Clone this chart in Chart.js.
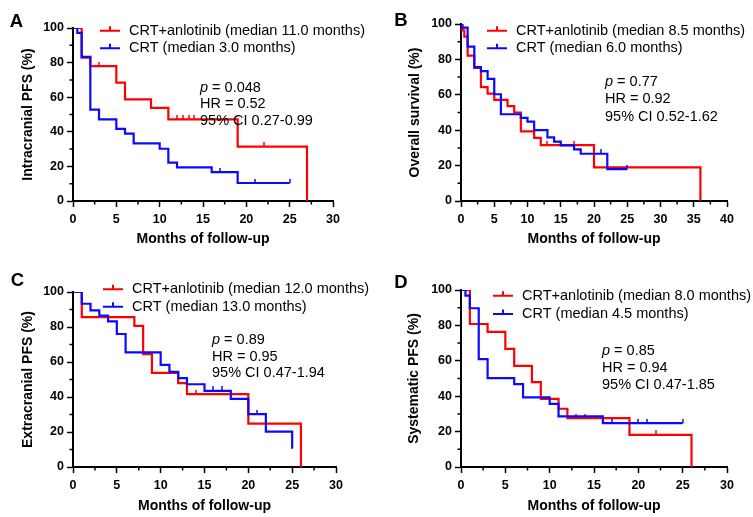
<!DOCTYPE html>
<html>
<head>
<meta charset="utf-8">
<script src="https://cdn.jsdelivr.net/npm/chart.js@4.4.0/dist/chart.umd.min.js"></script>
<style>
  body { margin: 0; background: #fff; overflow: hidden; }
  canvas { position: absolute; }
</style>
</head>
<body>
<canvas id="panelA" width="376" height="258" style="left:0;top:0"></canvas>
<canvas id="panelB" width="365" height="258" style="left:388px;top:0"></canvas>
<canvas id="panelC" width="376" height="259" style="left:0;top:258px"></canvas>
<canvas id="panelD" width="365" height="259" style="left:388px;top:258px"></canvas>
<script>
"use strict";
// ========== DATA ========== //
// A: intracranial PFS (months where the curve steps, % after the step)
const aRedMonths = [0, 1, 2, 5, 6, 9, 11, 19, 27];
const aRedPct = [100, 82.8, 78, 68.4, 58.8, 53.8, 47.2, 31.4, 0];
const aRedCensor = [0.5, 3, 12, 12.7, 13.4, 14, 22];
const aBlueMonths = [0, 0.5, 1, 2, 3, 5, 6, 7, 10, 11, 12, 16, 19, 25];
const aBluePct = [100, 97.2, 83.3, 52.8, 47.2, 41.7, 38.9, 33.3, 30.2, 22.2, 19.4, 16.7, 10.4, 10.4];
const aBlueCensor = [17, 21, 25];
const aLegend = ["CRT+anlotinib (median 11.0 months)", "CRT (median 3.0 months)"];
const aStats = ["0.048", "0.52", "0.27-0.99"];

// B: overall survival
const bRedMonths = [0, 0.2, 0.5, 1, 2, 3, 4, 5, 7, 8, 9, 11, 12, 20, 36];
const bRedPct = [100, 96.4, 92.9, 82.1, 75.2, 64.3, 60.7, 57.1, 53.6, 50, 39.3, 35.7, 31.6, 19, 0];
const bRedCensor = [13, 17];
const bBlueMonths = [0, 0.2, 1, 2, 3, 4, 5, 6, 9, 10, 11, 13, 14, 15, 17, 18, 22, 25];
const bBluePct = [100, 97.9, 87.2, 75.6, 73.4, 69, 60.3, 49, 47, 44.8, 40, 36, 33.5, 31.4, 29.2, 26.7, 18, 18];
const bBlueCensor = [21, 25];
const bLegend = ["CRT+anlotinib (median 8.5 months)", "CRT (median 6.0 months)"];
const bStats = ["0.77", "0.92", "0.52-1.62"];

// C: extracranial PFS
const cRedMonths = [0, 1, 7, 8, 9, 12, 13, 20, 26];
const cRedPct = [100, 85.7, 80.6, 64.5, 53.8, 47.9, 41.6, 24.8, 0];
const cRedCensor = [14];
const cBlueMonths = [0, 1, 2, 3, 4, 5, 6, 10, 11, 12, 13, 15, 18, 20, 22, 25];
const cBluePct = [100, 93.3, 89.5, 86.5, 83.2, 76, 65.5, 58.4, 54.4, 50.8, 47.3, 43.5, 38.9, 30.2, 20.2, 10.5];
const cBlueCensor = [0.5, 16, 17, 21];
const cLegend = ["CRT+anlotinib (median 12.0 months)", "CRT (median 13.0 months)"];
const cStats = ["0.89", "0.95", "0.47-1.94"];

// D: systematic PFS
const dRedMonths = [0, 1, 3, 5, 6, 8, 9, 11, 12, 19, 26];
const dRedPct = [100, 80.8, 76.3, 66.7, 57.1, 47.9, 38.5, 32.9, 27.6, 18.2, 0];
const dRedCensor = [13, 14, 22];
const dBlueMonths = [0, 0.5, 1, 2, 3, 6, 7, 10, 11, 16, 25];
const dBluePct = [100, 96.8, 89.7, 60.9, 50.2, 46.8, 39.3, 35.7, 28.6, 24.8, 24.8];
const dBlueCensor = [17, 20, 21, 25];
const dLegend = ["CRT+anlotinib (median 8.0 months)", "CRT (median 4.5 months)"];
const dStats = ["0.85", "0.94", "0.47-1.85"];

const RED = "#ff0000";
const BLUE = "#0a0aff";
const FONT = "'Liberation Sans', Arial, sans-serif";

Chart.defaults.font.family = FONT;
Chart.defaults.color = "#000";

// small upward tick used for censored points
function censorMark(color) {
  let c = document.createElement("canvas");
  c.width = 2;
  c.height = 9;
  let ctx = c.getContext("2d");
  ctx.fillStyle = color;
  ctx.fillRect(0.25, 0, 1.5, 4.5);
  return c;
}

// value of the step curve at month t
function pctAt(months, pct, t) {
  let v = pct[0];
  months.forEach((m, i) => { if (m <= t) v = pct[i]; });
  return v;
}

function stepSet(months, pct, color) {
  return {
    type: "line",
    data: months.map((m, i) => ({ x: m, y: pct[i] })),
    borderColor: color,
    borderWidth: 2.2,
    pointRadius: 0,
    stepped: true,
    fill: false
  };
}

function censorSet(months, pct, censor, color) {
  return {
    type: "scatter",
    data: censor.map(t => ({ x: t, y: pctAt(months, pct, t) })),
    pointStyle: censorMark(color),
    pointRadius: 4,
    showLine: false
  };
}

// ========== PANELS ========== //
function makePanel(id, p) {
  let el = document.querySelector("#" + id);
  let box = { left: p.left, top: p.top, width: el.width, height: el.height };

  const decor = {
    id: "decor" + id,
    afterDraw(chart) {
      let ctx = chart.ctx;
      let ox = box.left, oy = box.top;
      let xs = chart.scales.x, ys = chart.scales.y;
      ctx.save();
      // minor ticks
      ctx.strokeStyle = "#000";
      ctx.lineWidth = 1.5;
      ctx.beginPath();
      for (let v = 10; v < 100; v += 20) {
        let y = ys.getPixelForValue(v);
        ctx.moveTo(xs.left - 3.5, y);
        ctx.lineTo(xs.left, y);
      }
      for (let v = 2.5; v < p.xMax; v += 5) {
        let x = xs.getPixelForValue(v);
        ctx.moveTo(x, ys.bottom);
        ctx.lineTo(x, ys.bottom + 3.5);
      }
      ctx.stroke();

      // panel letter
      ctx.fillStyle = "#000";
      ctx.font = "bold 18.5px " + FONT;
      ctx.textAlign = "center";
      ctx.textBaseline = "middle";
      ctx.fillText(p.letter, p.letterX - ox, p.letterY - oy);

      // legend
      ctx.textAlign = "left";
      ctx.font = "14.5px " + FONT;
      [RED, BLUE].forEach((col, i) => {
        let y = p.legY[i] - oy;
        let x1 = p.legX - ox;
        ctx.strokeStyle = col;
        ctx.lineWidth = 2;
        ctx.beginPath();
        ctx.moveTo(x1, y);
        ctx.lineTo(x1 + 20, y);
        ctx.moveTo(x1 + 10, y);
        ctx.lineTo(x1 + 10, y - 4.5);
        ctx.stroke();
        ctx.fillStyle = "#000";
        ctx.fillText(p.legend[i], x1 + 29, y);
      });

      // statistics
      let sx = p.statX - ox;
      ctx.font = "italic 14.5px " + FONT;
      ctx.fillText("p", sx, p.statY[0] - oy);
      let w = ctx.measureText("p").width;
      ctx.font = "14.5px " + FONT;
      ctx.fillText(" = " + p.stats[0], sx + w, p.statY[0] - oy);
      ctx.fillText("HR = " + p.stats[1], sx, p.statY[1] - oy);
      ctx.fillText("95% CI " + p.stats[2], sx, p.statY[2] - oy);
      ctx.restore();
    }
  };

  new Chart(el, {
    type: "line",
    data: {
      datasets: [
        censorSet(p.blueT, p.blueS, p.blueC, BLUE),
        stepSet(p.blueT, p.blueS, BLUE),
        censorSet(p.redT, p.redS, p.redC, RED),
        stepSet(p.redT, p.redS, RED)
      ]
    },
    options: {
      responsive: false,
      animation: false,
      layout: {
        padding: {
          left: 0,
          top: p.area.t - box.top,
          right: box.left + box.width - p.area.r,
          bottom: 0
        }
      },
      plugins: { legend: { display: false }, tooltip: { enabled: false } },
      scales: {
        x: {
          type: "linear",
          min: 0,
          max: p.xMax,
          afterFit: s => {
            s.height = box.top + box.height - p.area.b;
            s.paddingLeft = 0;
            s.paddingRight = 0;
          },
          ticks: { stepSize: 5, autoSkip: false, maxRotation: 0, padding: 5,
                   font: { size: 12.5, weight: "bold" } },
          grid: { drawOnChartArea: false, tickLength: 6, tickWidth: 1.5, tickColor: "#000" },
          border: { color: "#000", width: 2 },
          title: {
            display: true,
            text: "Months of follow-up",
            font: { size: 14, weight: "bold" },
            padding: { top: 0, bottom: box.top + box.height - p.xTitleY - 8.4 }
          }
        },
        y: {
          min: 0,
          max: 100,
          afterFit: s => {
            s.width = p.area.l - box.left;
            s.paddingTop = 0;
            s.paddingBottom = 0;
          },
          ticks: { stepSize: 20, padding: 3, font: { size: 12.5, weight: "bold" } },
          grid: { drawOnChartArea: false, tickLength: 6, tickWidth: 1.5, tickColor: "#000" },
          border: { color: "#000", width: 2 },
          title: {
            display: true,
            text: p.yTitle,
            font: { size: 14, weight: "bold" },
            padding: { top: p.yTitleX - box.left - 8.4, bottom: 0 }
          }
        }
      }
    },
    plugins: [decor]
  });
}

makePanel("panelA", {
  left: 0, top: 0, area: { l: 73, r: 333, t: 28, b: 201 }, xMax: 30,
  yTitle: "Intracranial PFS (%)", yTitleX: 28, xTitleY: 239,
  letter: "A", letterX: 16.5, letterY: 21.5,
  legX: 100, legY: [30.7, 48.3], statX: 200, statY: [87.7, 104.3, 120.5],
  redT: aRedMonths, redS: aRedPct, redC: aRedCensor,
  blueT: aBlueMonths, blueS: aBluePct, blueC: aBlueCensor,
  legend: aLegend, stats: aStats
});

makePanel("panelB", {
  left: 388, top: 0, area: { l: 461, r: 727, t: 24, b: 201 }, xMax: 40,
  yTitle: "Overall survival (%)", yTitleX: 415, xTitleY: 239,
  letter: "B", letterX: 401, letterY: 21,
  legX: 487, legY: [30.7, 48.3], statX: 605, statY: [81.7, 99.3, 117.3],
  redT: bRedMonths, redS: bRedPct, redC: bRedCensor,
  blueT: bBlueMonths, blueS: bBluePct, blueC: bBlueCensor,
  legend: bLegend, stats: bStats
});

makePanel("panelC", {
  left: 0, top: 258, area: { l: 73, r: 336, t: 292, b: 467 }, xMax: 30,
  yTitle: "Extracranial PFS (%)", yTitleX: 28, xTitleY: 506,
  letter: "C", letterX: 17.5, letterY: 281,
  legX: 103, legY: [289.3, 306.7], statX: 212, statY: [340, 356.7, 373.3],
  redT: cRedMonths, redS: cRedPct, redC: cRedCensor,
  blueT: cBlueMonths, blueS: cBluePct, blueC: cBlueCensor,
  legend: cLegend, stats: cStats
});

makePanel("panelD", {
  left: 388, top: 258, area: { l: 461, r: 727, t: 290, b: 467 }, xMax: 30,
  yTitle: "Systematic PFS (%)", yTitleX: 414, xTitleY: 506,
  letter: "D", letterX: 401, letterY: 282.5,
  legX: 493, legY: [295.7, 314], statX: 602, statY: [350.7, 368.3, 385],
  redT: dRedMonths, redS: dRedPct, redC: dRedCensor,
  blueT: dBlueMonths, blueS: dBluePct, blueC: dBlueCensor,
  legend: dLegend, stats: dStats
});
</script>
</body>
</html>
